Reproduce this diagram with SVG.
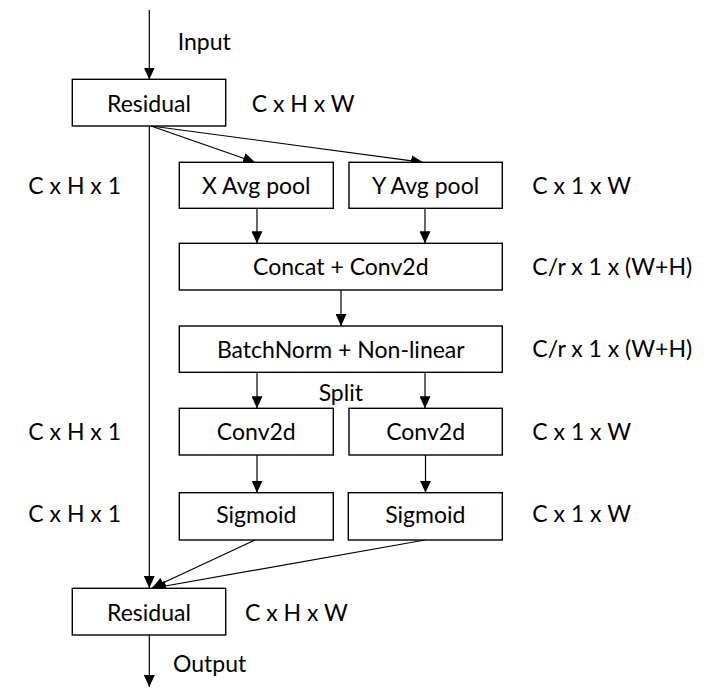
<svg xmlns="http://www.w3.org/2000/svg" width="716" height="698" viewBox="0 0 716 698">
<defs>
<marker id="ah" markerUnits="userSpaceOnUse" markerWidth="12" markerHeight="11" refX="12" refY="5.5" orient="auto">
<path d="M0,0 L12,5.5 L0,11 z" fill="#000"/>
</marker>
<style>
.box{fill:#fff;stroke:#000;stroke-width:1.4}
.t{font-family:Lato,"Liberation Sans",sans-serif;font-size:23px;fill:#000}
.c{text-anchor:middle}
.ln{stroke:#000;stroke-width:1.2;fill:none;marker-end:url(#ah)}
</style>
</defs>
<rect width="716" height="698" fill="#fff"/>
<g id="connectors">
<line class="ln" x1="149.3" y1="10" x2="149.3" y2="79.5"/>
<line class="ln" x1="151" y1="126" x2="255" y2="162.3"/>
<line class="ln" x1="151" y1="126" x2="423" y2="162.3"/>
<line class="ln" x1="149.3" y1="126" x2="149.3" y2="588"/>
<line class="ln" x1="257" y1="208.3" x2="257" y2="243.3"/>
<line class="ln" x1="425" y1="208.3" x2="425" y2="243.3"/>
<line class="ln" x1="341" y1="290" x2="341" y2="326"/>
<line class="ln" x1="257" y1="372.3" x2="257" y2="408.3"/>
<line class="ln" x1="425" y1="372.3" x2="425" y2="408.3"/>
<line class="ln" x1="257" y1="455" x2="257" y2="492.7"/>
<line class="ln" x1="425.5" y1="455" x2="425.5" y2="492.7"/>
<line class="ln" x1="255" y1="540" x2="152" y2="588"/>
<line class="ln" x1="425" y1="540" x2="154" y2="588"/>
<line class="ln" x1="149.3" y1="635" x2="149.3" y2="687"/>
</g>
<g id="residual-in">
<rect class="box" x="72.3" y="79.3" width="153.4" height="46.7"/>
<text class="t c" x="149" y="111.5">Residual</text>
</g>
<g id="x-avg-pool">
<rect class="box" x="179.3" y="162.3" width="154" height="46"/>
<text class="t c" x="256.3" y="194">X Avg pool</text>
</g>
<g id="y-avg-pool">
<rect class="box" x="349" y="162.3" width="153.3" height="46"/>
<text class="t c" x="425.6" y="194">Y Avg pool</text>
</g>
<g id="concat-conv">
<rect class="box" x="179.3" y="243.3" width="323" height="46.7"/>
<text class="t c" x="340.8" y="275">Concat + Conv2d</text>
</g>
<g id="batchnorm">
<rect class="box" x="179.3" y="326" width="323" height="46.3"/>
<text class="t c" x="340.8" y="357.7">BatchNorm + Non-linear</text>
</g>
<g id="conv-left">
<rect class="box" x="179.3" y="408.3" width="154" height="46.7"/>
<text class="t c" x="256.3" y="440">Conv2d</text>
</g>
<g id="conv-right">
<rect class="box" x="349" y="408.3" width="153.3" height="46.7"/>
<text class="t c" x="425.6" y="440">Conv2d</text>
</g>
<g id="sigmoid-left">
<rect class="box" x="179.3" y="492.7" width="154" height="47.3"/>
<text class="t c" x="256.3" y="523">Sigmoid</text>
</g>
<g id="sigmoid-right">
<rect class="box" x="348.3" y="492.7" width="154" height="47.3"/>
<text class="t c" x="425.3" y="523">Sigmoid</text>
</g>
<g id="residual-out">
<rect class="box" x="72.3" y="588.3" width="153.4" height="46.7"/>
<text class="t c" x="149" y="621">Residual</text>
</g>
<g id="labels">
<text class="t" x="177.7" y="50">Input</text>
<text class="t" x="251.7" y="111.7">C x H x W</text>
<text class="t" x="28.3" y="194">C x H x 1</text>
<text class="t" x="532.3" y="193.5">C x 1 x W</text>
<text class="t" x="532.3" y="275">C/r x 1 x (W+H)</text>
<text class="t" x="532.3" y="357">C/r x 1 x (W+H)</text>
<text class="t c" x="340.8" y="400.7">Split</text>
<text class="t" x="28.3" y="440">C x H x 1</text>
<text class="t" x="532.3" y="440">C x 1 x W</text>
<text class="t" x="28.3" y="522">C x H x 1</text>
<text class="t" x="532.3" y="522">C x 1 x W</text>
<text class="t" x="245" y="621">C x H x W</text>
<text class="t" x="173" y="672">Output</text>
</g>
</svg>
